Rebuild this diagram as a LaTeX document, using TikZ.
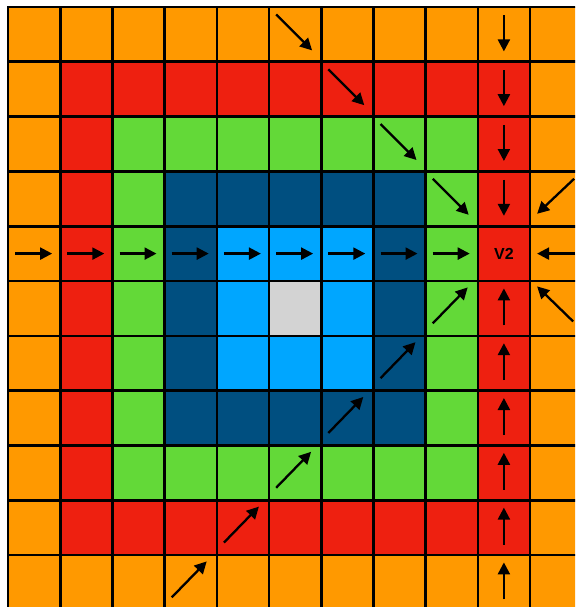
\documentclass[tikz,border=0pt]{standalone}
\usepackage{fontspec}
\setmainfont{Liberation Sans}
\usepackage{xcolor}
\usetikzlibrary{arrows.meta}

\definecolor{ring0}{RGB}{211,211,211}
\definecolor{ring1}{RGB}{0,166,255}
\definecolor{ring2}{RGB}{0,79,128}
\definecolor{ring3}{RGB}{99,217,56}
\definecolor{ring4}{RGB}{238,32,16}
\definecolor{ring5}{RGB}{255,153,0}

\begin{document}
\begin{tikzpicture}[
    x=52.2pt, y=-54.8pt,
    cell/.style={inner sep=0pt, minimum width=52.2pt, minimum height=54.8pt},
    gridline/.style={line width=2.6pt, line cap=rect},
    arr/.style={-{Triangle[length=12pt,width=12pt]}, line width=2.3pt},
  ]
  \useasboundingbox (-8pt,7pt) rectangle (567pt,-600pt);
  \clip (-8pt,7pt) rectangle (567pt,-600pt);

  % cells, coloured by ring round the centre cell
  \foreach \i in {0,...,10} {
    \foreach \j in {0,...,10} {
      \pgfmathtruncatemacro{\d}{max(abs(\i-5),abs(\j-5))}
      \node[cell, fill=ring\d] (c\i-\j) at (\i+0.5,\j+0.5) {};
    }
  }

  % grid lines
  \foreach \k in {0,...,11} {
    \draw[gridline] (\k,0) -- (\k,11);
    \draw[gridline] (0,\k) -- (11,\k);
  }

  % row and column through V2
  \foreach \i in {0,...,8}
    \draw[arr] ([xshift=-19pt]c\i-4.center) -- ([xshift=18pt]c\i-4.center);
  \draw[arr] ([xshift=19pt]c10-4.center) -- ([xshift=-19pt]c10-4.center);
  \foreach \j in {0,...,3}
    \draw[arr] ([yshift=19pt]c9-\j.center) -- ([yshift=-17pt]c9-\j.center);
  \foreach \j in {5,...,10}
    \draw[arr] ([yshift=-17pt]c9-\j.center) -- ([yshift=20pt]c9-\j.center);

  % diagonals
  \foreach \i/\j in {5/0,6/1,7/2,8/3}
    \draw[arr] ([shift={(-19pt,20pt)}]c\i-\j.center) -- ([shift={(17pt,-16pt)}]c\i-\j.center);
  \foreach \i/\j in {8/5,7/6,6/7,5/8,4/9,3/10}
    \draw[arr] ([shift={(-19pt,-15pt)}]c\i-\j.center) -- ([shift={(16pt,21pt)}]c\i-\j.center);
  \draw[arr] ([shift={(18pt,20pt)}]c10-3.center) -- ([shift={(-19pt,-15pt)}]c10-3.center);
  \draw[arr] ([shift={(17pt,-13pt)}]c10-5.center) -- ([shift={(-19pt,22pt)}]c10-5.center);

  \node[font=\bfseries\fontsize{16}{16}\selectfont] (v2) at (c9-4.center) {V2};
\end{tikzpicture}
\end{document}
